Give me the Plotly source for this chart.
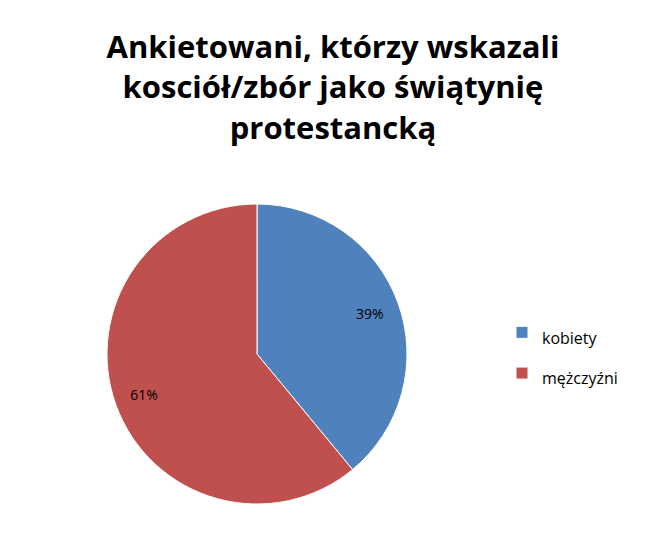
import plotly.graph_objects as go

labels = ["kobiety", "mężczyźni"]
values = [39, 61]
colors = ["#4F81BD", "#C0504D"]
title_text = "Ankietowani, którzy wskazali<br>kosciół/zbór jako świątynię<br>protestancką"

W, H = 646, 553
cx, cy, r = 249, 346, 150
domain = dict(x=[(cx - r) / W, (cx + r) / W], y=[(H - cy - r) / H, (H - cy + r) / H])

legend_labels = [f"<span style='font-size:16px'>{l}</span>" for l in labels]

fig = go.Figure()
fig.add_trace(go.Pie(
    labels=legend_labels,
    values=values,
    sort=False,
    direction="clockwise",
    rotation=0,
    marker=dict(colors=colors, line=dict(color="white", width=1)),
    textinfo="none",
    domain=domain,
    hovertemplate="%{label}: %{percent}<extra></extra>",
))
# transparent ring carrying the percent labels further out, as in the reference
fig.add_trace(go.Pie(
    labels=legend_labels,
    values=values,
    sort=False,
    direction="clockwise",
    rotation=0,
    hole=0.6,
    marker=dict(colors=["rgba(0,0,0,0)"] * len(values), line=dict(width=0)),
    texttemplate="%{percent:.0%}",
    textposition="inside",
    insidetextorientation="horizontal",
    textfont=dict(family="Open Sans", size=14, color="#000000"),
    domain=domain,
    showlegend=False,
    hoverinfo="skip",
))

fig.update_layout(
    width=W, height=H,
    margin=dict(l=0, r=0, t=0, b=0, autoexpand=False),
    paper_bgcolor="white",
    plot_bgcolor="white",
    title=dict(text="<b>" + title_text + "</b>", x=325 / W, xanchor="center", y=1 - 50 / H, yanchor="top",
               font=dict(family="Open Sans", size=31, color="#000000")),
    legend=dict(x=494 / W, y=1 - 345 / H, xanchor="left", yanchor="middle",
                font=dict(family="Open Sans", size=29, color="#000000"),
                itemwidth=30),
    showlegend=True,
)

fig.write_html("out.html")
